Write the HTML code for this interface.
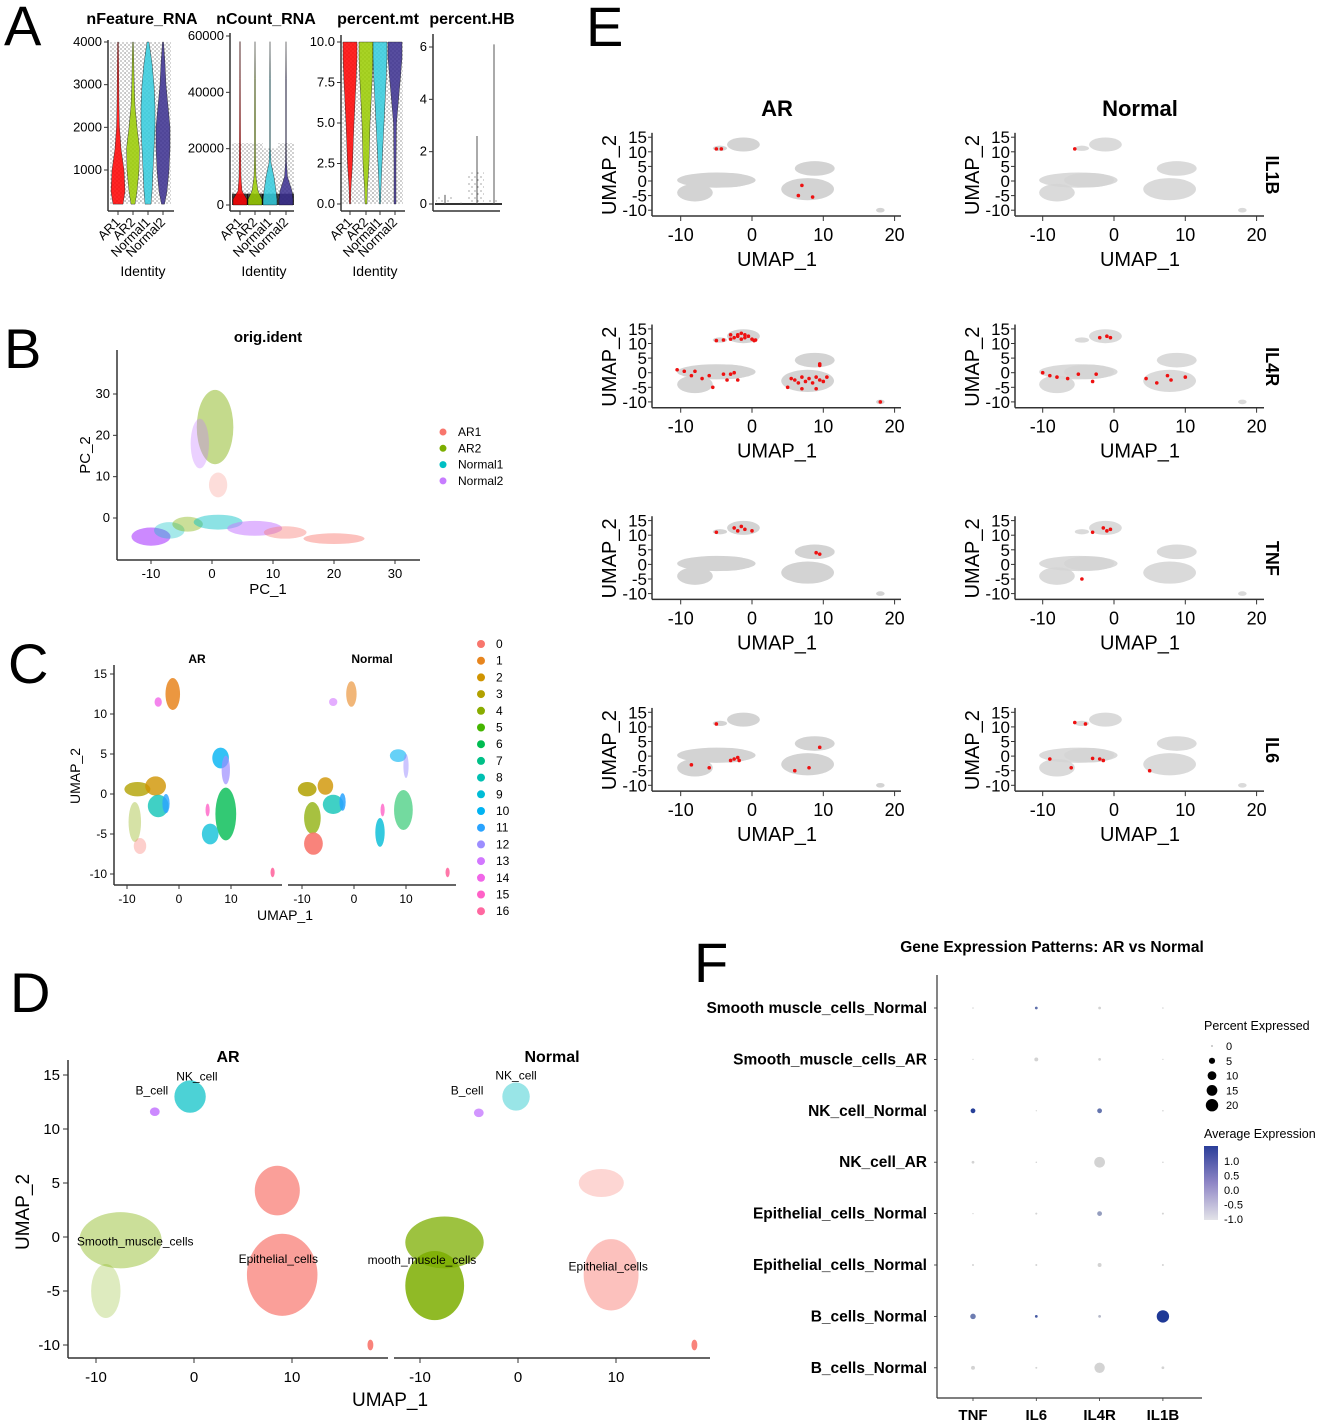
<!DOCTYPE html>
<html><head><meta charset="utf-8"><style>
body{margin:0;background:#fff}
svg{display:block;font-family:"Liberation Sans",Arial,sans-serif}
</style></head><body>
<svg id="fig" width="1325" height="1426" viewBox="0 0 1325 1426" xmlns="http://www.w3.org/2000/svg">
<defs>
<pattern id="jit" width="4" height="4" patternUnits="userSpaceOnUse"><circle cx="1" cy="1" r="0.55" fill="#000"/><circle cx="3" cy="3" r="0.5" fill="#000"/></pattern>
<pattern id="jits" width="6" height="7" patternUnits="userSpaceOnUse"><circle cx="1" cy="2" r="0.5" fill="#000"/><circle cx="4" cy="5" r="0.5" fill="#000"/></pattern>
</defs>
<text x="4" y="45" font-size="56">A</text>
<text x="4" y="368" font-size="56">B</text>
<text x="8" y="683" font-size="56">C</text>
<text x="10" y="1012" font-size="56">D</text>
<text x="586" y="46" font-size="56">E</text>
<text x="694" y="982" font-size="56">F</text>
<g id="gA"></g>
<g id="gB"></g>
<g id="gC"></g>
<g id="gD"></g>
<g id="gE"></g>
<g id="gF"></g>
</svg>
<script>
// ---------- DATA ----------
const groups=["AR1","AR2","Normal1","Normal2"];
const groupColorsA=["#FF0000","#99CC00","#33CCDD","#3A2E8F"];
const featLevels=[200,500,1000,1500,2000,2500,3000,3500,4000];
const featW=[[5,7,6,3,1.5,1,0.8,0.6,0.4],[2,4,6,6.5,4,2,1.2,0.8,0.4],[3,4,5,6,7,7,6,4,1],[1.5,4,6,7,7,5,3,2,0.5]];
const countLevels=[0,2000,5000,10000,15000,20000,30000,45000,58000];
const countW=[[7,7,2,1,0.8,0.6,0.5,0.4,0.3],[7,7,3,1,0.6,0.5,0.5,0.4,0],[7,7,6,4,1,0.4,0.4,0.4,0],[7,7,6,1.5,0.5,0.4,0.4,0.4,0]];
const mtLevels=[0,1,2.5,5,7.5,9,10];
const mtW=[[0.5,1,2.5,4,6,7,7],[1,1.5,3,4,6,7,7],[0.5,1,2,4,6,7,7],[1,1,1,1.5,5,7,7]];
const hbMax=[0.35,0.05,2.6,6.1];
const featTicks=[1000,2000,3000,4000], countTicks=[0,20000,40000,60000], mtTicks=[0,2.5,5,7.5,10], hbTicks=[0,2,4,6];
const mtTickLabels=["0.0","2.5","5.0","7.5","10.0"];

const pcaNames=["AR1","AR2","Normal1","Normal2"];
const pcaColors=["#F8766D","#7CAE00","#00BFC4","#C77CFF"];
// blobs: [cx, cy, rx, ry, group, opacity]
const pcaBlobs=[[-10,-4.5,3.2,2.2,3,0.9],[-7,-3,2.5,2,2,0.35],[-4,-1.5,2.5,1.8,1,0.4],[1,-1,4,1.8,2,0.45],[7,-2.5,4.5,1.8,3,0.55],[12,-3.5,3.5,1.5,0,0.4],[20,-5,5,1.3,0,0.45],[0.5,22,3,9,1,0.45],[-2,18,1.5,6,3,0.35],[1,8,1.5,3,0,0.25]];
const pcaXTicks=[-10,0,10,20,30], pcaYTicks=[0,10,20,30];

const clusterColors=["#F8766D","#E7851E","#D09400","#B2A100","#89AC00","#45B500","#00BC51","#00C087","#00C0B2","#00BCD6","#00B3F2","#29A3FF","#9C8DFF","#D277FF","#F166E8","#FF61C7","#FF68A0"];
const clusterIds=["0","1","2","3","4","5","6","7","8","9","10","11","12","13","14","15","16"];
const cBlobsAR=[[-1.2,12.5,1.4,2,1,0.85],[-4,11.5,0.7,0.6,14,0.8],[-8,0.6,2.5,0.9,3,0.8],[-4.5,1,2,1.2,2,0.8],[-4,-1.5,2,1.4,8,0.75],[-2.5,-1.2,0.7,1.2,11,0.8],[-8.5,-3.5,1.2,2.5,4,0.35],[-7.5,-6.5,1.2,1,0,0.35],[8,4.5,1.6,1.3,10,0.8],[9,3,0.8,1.8,12,0.7],[9,-2.5,2,3.3,6,0.8],[6,-5,1.6,1.3,9,0.75],[5.5,-2,0.4,0.8,15,0.8],[18,-9.8,0.4,0.6,16,0.9]];
const cBlobsN=[[-0.5,12.5,1,1.6,1,0.6],[-4,11.5,0.8,0.5,13,0.6],[-9,0.6,1.8,0.9,3,0.85],[-5.5,1,1.5,1.1,2,0.8],[-4,-1.3,2,1.2,8,0.75],[-2.2,-1,0.6,1.1,11,0.85],[-8,-3,1.6,2,4,0.75],[-7.8,-6.2,1.8,1.4,0,0.9],[8.5,4.8,1.6,0.8,10,0.6],[10,3.5,0.5,1.5,12,0.5],[9.5,-2,1.8,2.5,6,0.55],[5,-4.8,0.9,1.8,9,0.8],[5.5,-2,0.4,0.8,15,0.8],[18,-9.8,0.4,0.6,16,0.9]];
const umapTicks=[-10,0,10], umapYTicks=[-10,-5,0,5,10,15];

const cellColors=["#00BFC4","#C77CFF","#7CAE00","#F8766D"];
const dBlobsAR=[[-0.4,13,1.6,1.5,0,0.7],[-4,11.6,0.5,0.4,1,0.9],[-7.5,-0.3,4.2,2.6,2,0.4],[-9,-5,1.5,2.5,2,0.25],[8.5,4.3,2.3,2.3,3,0.7],[9,-3.5,3.6,3.8,3,0.7],[18,-10,0.3,0.5,3,0.9]];
const dBlobsN=[[-0.2,13,1.4,1.3,0,0.4],[-4,11.5,0.5,0.4,1,0.8],[-7.5,-0.5,4,2.4,2,0.75],[-8.5,-4.5,3,3.2,2,0.85],[8.5,5,2.3,1.3,3,0.3],[9.5,-3.5,2.8,3.3,3,0.45],[18,-10,0.3,0.5,3,0.9]];
const dLabels=[["NK_cell",0.3,14.5,"AR"],["B_cell",-4.3,13.2,"AR"],["Smooth_muscle_cells",-6,-0.8,"AR"],["Epithelial_cells",8.6,-2.4,"AR"],["NK_cell",-0.2,14.6,"N"],["B_cell",-5.2,13.2,"N"],["mooth_muscle_cells",-9.8,-2.5,"N"],["Epithelial_cells",9.2,-3.1,"N"]];

const genes=["IL1B","IL4R","TNF","IL6"];
const eBlobs=[[-1.2,12.5,2.3,2.4],[-4.5,11.2,1,0.9],[-5,0.3,5.5,2.6],[-8,-4,2.5,3],[-3.5,0.3,3.5,2.5],[8.8,4.3,2.8,2.5],[7.8,-2.8,3.7,3.8],[18,-10,0.6,0.8]];
const eRed={
 "IL1B_AR":[[-5,11],[-4.3,11],[7,-1.5],[6.5,-5],[8.5,-5.5]],
 "IL1B_N":[[-5.5,11]],
 "IL4R_AR":[[-5,11],[-4,11.2],[-3,11.5],[-2.5,12],[-2,13],[-1.5,13.5],[-1,13],[-0.5,12.5],[0,11.5],[0.3,11],[-1,12],[-2,12.5],[-3,13],[-1.5,11.5],[0.5,11.2],[-10.5,1],[-9.5,0.5],[-8,0.5],[-8.5,-1],[-6,-1],[-4,-0.5],[-3,-0.5],[-2.5,0],[-5.5,-5],[-3.5,-2.5],[-7,-2],[-2,-2.5],[9.5,3],[9.5,2.5],[5.5,-2],[6,-2.5],[6.5,-3.5],[7,-1.5],[7.5,-3],[8,-2],[8.5,-3.5],[9,-1.5],[9.5,-2.5],[10,-3],[10.5,-1.5],[5,-5],[7,-5.5],[9,-5.5],[18,-10]],
 "IL4R_N":[[-2,12],[-1,12.5],[-0.5,12],[-10,0],[-9,-1],[-8,-1.5],[-6.5,-2],[-5,-0.5],[-2.5,-0.5],[-3,-3],[4.5,-2],[6,-3.5],[7.5,-1],[8,-2.5],[10,-1.5]],
 "TNF_AR":[[-5,11],[-2.5,12.5],[-1.5,13],[-1,12],[0,11.5],[-2,11.5],[9.5,3.5],[9,4]],
 "TNF_N":[[-3,11],[-1.5,12.5],[-0.5,12],[-1,11.5],[-4.5,-5]],
 "IL6_AR":[[-5,11],[-2.5,-1],[-2,-0.5],[-1.8,-1.5],[-3,-1.5],[-8.5,-3],[-6,-4],[6,-5],[8,-4],[9.5,3]],
 "IL6_N":[[-5.5,11.5],[-4,11],[-2,-1],[-1.5,-1.5],[-3,-0.8],[-9,-1],[-6,-4],[5,-5]]
};
const eXTicks=[-10,0,10,20], eYTicks=[-10,-5,0,5,10,15];

const fRows=["Smooth muscle_cells_Normal","Smooth_muscle_cells_AR","NK_cell_Normal","NK_cell_AR","Epithelial_cells_Normal","Epithelial_cells_Normal","B_cells_Normal","B_cells_Normal"];
const fGenes=["TNF","IL6","IL4R","IL1B"];
const fPct=[[0.3,1,1,0.3],[0.2,2,1,0.2],[3,0.2,3,0.3],[1,0.3,15,0.3],[0.2,0.5,3,0.5],[0.5,0.5,2,0.5],[4,1,1,20],[2,0.5,14,1]];
const fAvg=[[-1,0.5,-1,-1],[-1,-1,-1,-1],[1.2,-1,0.4,-1],[-1,-1,-1,-1],[-1,-1,-0.2,-1],[-1,-1,-1,-1],[0.3,0.8,-0.6,1.3],[-1,-1,-1,-1]];
const pctLegend=[0,5,10,15,20];
const avgLegend=["1.0","0.5","0.0","-0.5","-1.0"];

// ---------- HELPERS ----------
const NS="http://www.w3.org/2000/svg";
function mk(tag,attrs,parent){const e=document.createElementNS(NS,tag);for(const k in attrs)e.setAttribute(k,attrs[k]);parent.appendChild(e);return e;}
function lin(d0,d1,r0,r1){return v=>r0+(v-d0)*(r1-r0)/(d1-d0);}
function txt(parent,x,y,s,size,anchor,extra){const t=mk("text",Object.assign({x:x,y:y,"font-size":size,"text-anchor":anchor||"start"},extra||{}),parent);t.textContent=s;return t;}
function line(parent,x1,y1,x2,y2,w,c){return mk("line",{x1,y1,x2,y2,stroke:c||"#333","stroke-width":w||1},parent);}

// ---------- PANEL A ----------
const gA=document.getElementById("gA");
const aTitles=[["nFeature_RNA",142],["nCount_RNA",266],["percent.mt",378],["percent.HB",472]];
aTitles.forEach(t=>{const e=txt(gA,t[1],24,t[0],16,"middle",{"font-weight":"bold"});

});
function violinPanel(cfg){
 const y=lin(cfg.d0,cfg.d1,cfg.r0,cfg.r1);
 const ax=mk("g",{},gA);
 
 
 line(ax,cfg.x0,cfg.top,cfg.x0,cfg.bot,1.5);
 line(ax,cfg.x0,cfg.bot,cfg.x1,cfg.bot,1.5);
 cfg.ticks.forEach((v,i)=>{line(ax,cfg.x0-4,y(v),cfg.x0,y(v),1);
  const l=txt(ax,cfg.x0-6,y(v)+4,cfg.labels?cfg.labels[i]:String(v),13,"end");
  
  });
 groups.forEach((g,i)=>{
  const cx=cfg.xs[i];
  if(cfg.ids){line(ax,cx,cfg.bot,cx,cfg.bot+4,1);
   const l=txt(ax,cx+3,cfg.bot+12,g,13,"end",{transform:`rotate(-45 ${cx+3} ${cfg.bot+12})`});
   
   }
  const jr=mk("rect",{x:cx-8,y:y(cfg.jitHi[i]),width:16,height:y(cfg.jitLo)-y(cfg.jitHi[i]),fill:cfg.sparse?"url(#jits)":"url(#jit)",opacity:0.9},ax);
  
  
  if(cfg.dense){const dr=mk("rect",{x:cx-8,y:y(cfg.dense[1]),width:16,height:y(cfg.dense[0])-y(cfg.dense[1]),fill:"#000",opacity:0.75},ax);
   
   }
  if(cfg.levels){
   const L=cfg.levels,W=cfg.widths[i];let pts=[];
   L.forEach((v,k)=>pts.push([cx+W[k],y(v)]));
   for(let k=L.length-1;k>=0;k--)pts.push([cx-W[k],y(L[k])]);
   const p=mk("polygon",{points:pts.map(p=>p.join(",")).join(" "),fill:groupColorsA[i],stroke:"#000","stroke-width":0.4,opacity:0.85},ax);
   
   
  } else {
   const p=mk("rect",{x:cx-9,y:y(0)-1,width:18,height:2,fill:"#333"},ax);
   
   
   const t=line(ax,cx+1,y(0),cx+1,y(cfg.hb[i]),1,"#555");
   
   
  }
 });
 if(cfg.ids){const l=txt(ax,(cfg.x0+cfg.x1)/2+2,276,"Identity",14,"middle");
  
  }
}
violinPanel({name:"nfeature",d0:1000,d1:4000,r0:170,r1:42,x0:108,x1:174,top:40,bot:211,ticks:featTicks,xs:[118,133,148,163],levels:featLevels,widths:featW,jitHi:[4000,4000,4000,4000],jitLo:200,ids:true});
violinPanel({name:"ncount",d0:0,d1:60000,r0:205,r1:36,x0:230,x1:294,top:33,bot:211,ticks:countTicks,xs:[240,255,270,286],levels:countLevels,widths:countW,jitHi:[22000,22000,20000,22000],jitLo:0,dense:[0,4000],sparse:false,ids:true});
violinPanel({name:"percentmt",d0:0,d1:10,r0:204,r1:42,x0:341,x1:405,top:35,bot:211,ticks:mtTicks,labels:mtTickLabels,xs:[350,366,380,395],levels:mtLevels,widths:mtW,jitHi:[10,10,10,10],jitLo:0,ids:true});
violinPanel({name:"percenthb",d0:0,d1:6,r0:204,r1:47,x0:433,x1:500,top:34,bot:211,ticks:hbTicks,xs:[444,460,476,493],hb:hbMax,jitHi:[0.35,0.05,1.2,0.2],jitLo:0,sparse:true,ids:false});

// ---------- PANEL B ----------
const gB=document.getElementById("gB");
(function(){
 const x=lin(0,10,212,273), y=lin(0,30,518,394);
 const t=txt(gB,268,342,"orig.ident",15,"middle",{"font-weight":"bold"});
 
 
 pcaBlobs.forEach(b=>{const e=mk("ellipse",{cx:x(b[0]),cy:y(b[1]),rx:x(b[2])-x(0),ry:y(0)-y(b[3]),fill:pcaColors[b[4]],opacity:b[5]},gB);
  
  });
 line(gB,117,350,117,560,1.5);line(gB,117,560,420,560,1.5);
 pcaXTicks.forEach(v=>{line(gB,x(v),560,x(v),564);const l=txt(gB,x(v),578,String(v),13,"middle");
  
  });
 pcaYTicks.forEach(v=>{line(gB,113,y(v),117,y(v));const l=txt(gB,110,y(v)+4,String(v),13,"end");
  
  });
 const xt=txt(gB,268,594,"PC_1",15,"middle");
 
 
 const yt=txt(gB,90,455,"PC_2",15,"middle",{transform:"rotate(-90 90 455)"});
 
 
 pcaNames.forEach((n,i)=>{const c=mk("circle",{cx:443,cy:432+i*16.3,r:3.5,fill:pcaColors[i]},gB);
  
  
  const l=txt(gB,458,436+i*16.3,n,12);
  
  });
})();

// ---------- PANEL C ----------
const gC=document.getElementById("gC");
(function(){
 const y=lin(0,5,794,754);
 function facet(x0px,axLeft,axRight,blobs,title,tx){
  const x=lin(0,10,x0px,x0px+52);
  blobs.forEach(b=>{const e=mk("ellipse",{cx:x(b[0]),cy:y(b[1]),rx:x(b[2])-x(0),ry:y(0)-y(b[3]),fill:clusterColors[b[4]],opacity:b[5]},gC);
   
   });
  line(gC,axLeft,885,axRight,885,1.5);
  umapTicks.forEach(v=>{line(gC,x(v),885,x(v),889);const l=txt(gC,x(v),903,String(v),12,"middle");
   
   });
  const t=txt(gC,tx,663,title,12,"middle",{"font-weight":"bold"});
  
  
 }
 facet(179,114,282,cBlobsAR,"AR",197);
 facet(354,288,456,cBlobsN,"Normal",372);
 line(gC,114,665,114,885,1.5);
 umapYTicks.forEach(v=>{line(gC,110,y(v),114,y(v));const l=txt(gC,107,y(v)+4,String(v),12,"end");
  
  });
 const xt=txt(gC,285,920,"UMAP_1",14,"middle");
 
 
 const yt=txt(gC,80,776,"UMAP_2",14,"middle",{transform:"rotate(-90 80 776)"});
 
 
 clusterIds.forEach((id,i)=>{const c=mk("circle",{cx:481,cy:644+i*16.7,r:4,fill:clusterColors[i]},gC);
  
  
  const l=txt(gC,496,648+i*16.7,id,12);
  
  });
})();

// ---------- PANEL D ----------
const gD=document.getElementById("gD");
(function(){
 const y=lin(0,5,1237,1183);
 function facet(x0px,axLeft,axRight,blobs,title,tx,key){
  const x=lin(0,10,x0px,x0px+98);
  blobs.forEach(b=>{const e=mk("ellipse",{cx:x(b[0]),cy:y(b[1]),rx:x(b[2])-x(0),ry:y(0)-y(b[3]),fill:cellColors[b[4]],opacity:b[5]},gD);
   
   });
  dLabels.filter(l=>l[3]===key).forEach(l=>{const t=txt(gD,x(l[1]),y(l[2]),l[0],12,"middle");
   
   });
  line(gD,axLeft,1358,axRight,1358,1.5);
  umapTicks.forEach(v=>{line(gD,x(v),1358,x(v),1363);const l=txt(gD,x(v),1382,String(v),15,"middle");
   
   });
  const t=txt(gD,tx,1062,title,16,"middle",{"font-weight":"bold"});
  
  
 }
 facet(194,68,388,dBlobsAR,"AR",228,"AR");
 facet(518,394,710,dBlobsN,"Normal",552,"N");
 line(gD,68,1060,68,1358,1.5);
 umapYTicks.forEach(v=>{line(gD,63,y(v),68,y(v));const l=txt(gD,60,y(v)+5,String(v),15,"end");
  
  });
 const xt=txt(gD,390,1406,"UMAP_1",19,"middle");
 
 
 const yt=txt(gD,29,1212,"UMAP_2",19,"middle",{transform:"rotate(-90 29 1212)"});
 
 
})();

// ---------- PANEL E ----------
const gE=document.getElementById("gE");
(function(){
 const conds=[["AR",752,652,777],["N",1114,1015,1140]];
 const t1=txt(gE,777,116,"AR",22,"middle",{"font-weight":"bold"});
 
 
 const t2=txt(gE,1140,116,"Normal",22,"middle",{"font-weight":"bold"});
 
 
 genes.forEach((g,r)=>{
  const y0=181+r*191.7;
  const y=lin(0,5,y0,y0-14.6);
  conds.forEach(c=>{
   const x=lin(0,10,c[1],c[1]+71.3);
   const grp=mk("g",{},gE);
   
   
   eBlobs.forEach(b=>{const e=mk("ellipse",{cx:x(b[0]),cy:y(b[1]),rx:x(b[2])-x(0),ry:y(0)-y(b[3]),fill:"#D3D3D3",opacity:c[0]==="N"?0.85:1},grp);
    
    });
   eRed[g+"_"+c[0]].forEach(p=>{const d=mk("circle",{cx:x(p[0]),cy:y(p[1]),r:1.8,fill:"#EE1111"},grp);
    
    });
   const ax0=c[2];
   line(grp,ax0,y(16.5),ax0,y0+35,1.5);line(grp,ax0,y0+35,ax0+249,y0+35,1.5);
   eYTicks.forEach(v=>{line(grp,ax0-4,y(v),ax0,y(v));const l=txt(grp,ax0-5,y(v)+6,String(v),17,"end");
    
    });
   eXTicks.forEach(v=>{line(grp,x(v),y0+35,x(v),y0+40);const l=txt(grp,x(v),y0+60,String(v),18,"middle");
    
    });
   const xt=txt(grp,c[3],y0+85,"UMAP_1",20,"middle");
   
   
   const yx=ax0-43,yy=y0-6;
   const yt=txt(grp,yx+7,yy,"UMAP_2",20,"middle",{transform:`rotate(-90 ${yx+7} ${yy})`});
   
   
  });
  const gl=txt(gE,1266,y0-6,g,18,"middle",{"font-weight":"bold",transform:`rotate(90 1266 ${y0-6})`});
  
  
 });
})();

// ---------- PANEL F ----------
const gF=document.getElementById("gF");
(function(){
 const rowY=i=>1008+i*51.4;
 const colX=j=>973+j*63.3;
 const rad=p=>Math.max(0.5,6.2*Math.sqrt(p/20));
 function col(v){const t=Math.max(0,Math.min(1,(v+1)/2.3));const a=[211,211,211],b=[31,57,150];
  return `rgb(${a.map((c,i)=>Math.round(c+(b[i]-c)*t)).join(",")})`;}
 const title=txt(gF,1052,952,"Gene Expression Patterns: AR vs Normal",15.5,"middle",{"font-weight":"bold"});
 
 
 line(gF,937,975,937,1398,1.2);line(gF,937,1398,1202,1398,1.2);
 fRows.forEach((r,i)=>{line(gF,934,rowY(i),937,rowY(i),0.8);
  const l=txt(gF,927,rowY(i)+5,r,15.5,"end",{"font-weight":"bold"});
  
  });
 fGenes.forEach((g,j)=>{line(gF,colX(j),1398,colX(j),1401,0.8);
  const l=txt(gF,colX(j),1420,g,15,"middle",{"font-weight":"bold"});
  
  });
 fRows.forEach((r,i)=>fGenes.forEach((g,j)=>{
  const d=mk("circle",{cx:colX(j),cy:rowY(i),r:rad(fPct[i][j]),fill:col(fAvg[i][j])},gF);
  
  }));
 const lt=txt(gF,1204,1030,"Percent Expressed",12.5);
 
 
 pctLegend.forEach((p,k)=>{const yy=1046+k*14.8;const c=mk("circle",{cx:1212,cy:yy,r:rad(p),fill:"#000"},gF);
  
  
  const l=txt(gF,1226,yy+4,String(p),11);
  
  });
 const at=txt(gF,1204,1138,"Average Expression",12.5);
 
 
 const grad=mk("linearGradient",{id:"avgGrad",x1:0,y1:0,x2:0,y2:1},document.querySelector("defs"));
 mk("stop",{offset:"0",["stop-color"]:"#2B3E99"},grad);mk("stop",{offset:"0.5",["stop-color"]:"#8F86C6"},grad);mk("stop",{offset:"1",["stop-color"]:"#E3E3E8"},grad);
 const bar=mk("rect",{x:1204,y:1146,width:14,height:74,fill:"url(#avgGrad)"},gF);
 
 
 avgLegend.forEach((s,k)=>{const l=txt(gF,1224,1165+k*14.5,s,11);
  
  });
})();
</script>
</body></html>
